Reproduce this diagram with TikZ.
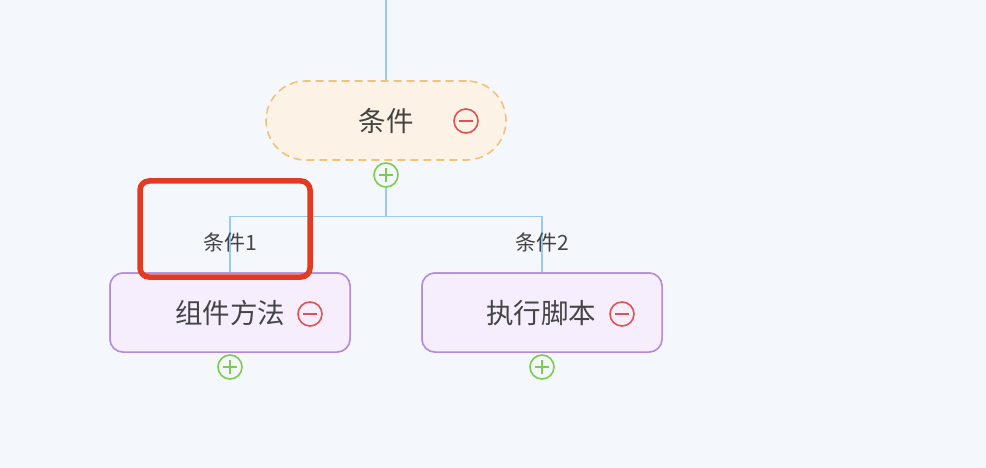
\documentclass[tikz,border=0pt]{standalone}
\usepackage{fontspec}
\setmainfont{Noto Sans CJK SC}
\definecolor{bg}{HTML}{F4F7FB}
\definecolor{lnk}{HTML}{9CCAEE}
\definecolor{rootfill}{HTML}{FDF2E6}
\definecolor{rootdraw}{HTML}{F1C27A}
\definecolor{kidfill}{HTML}{F6EEFC}
\definecolor{kiddraw}{HTML}{B48BDB}
\definecolor{txt}{HTML}{444444}
\definecolor{minusc}{HTML}{E05252}
\definecolor{plusc}{HTML}{7ECB52}
\definecolor{hl}{HTML}{E23B22}
\tikzset{
  rootbox/.style={draw=rootdraw, fill=rootfill, line width=1.6pt, dash pattern=on 8pt off 5pt,
    rounded corners=39.5pt, minimum width=240pt, minimum height=79pt, inner sep=0pt},
  kidbox/.style={draw=kiddraw, fill=kidfill, line width=1.5pt, rounded corners=13pt,
    minimum width=240pt, minimum height=79pt, inner sep=0pt},
  maintext/.style={text=txt, font=\fontsize{27.5}{30}\selectfont, inner sep=0pt},
  labtext/.style={text=txt, font=\fontsize{21}{24}\selectfont, inner sep=0pt},
  minusbtn/.style={circle, draw=minusc, line width=1.6pt, minimum size=24pt, inner sep=0pt,
    path picture={\draw[minusc, line width=1.6pt] ([xshift=-7pt]path picture bounding box.center) -- ([xshift=7pt]path picture bounding box.center);}},
  plusbtn/.style={circle, draw=plusc, line width=1.6pt, minimum size=24pt, inner sep=0pt,
    path picture={\draw[plusc, line width=1.6pt] ([xshift=-7pt]path picture bounding box.center) -- ([xshift=7pt]path picture bounding box.center)
      ([yshift=-7pt]path picture bounding box.center) -- ([yshift=7pt]path picture bounding box.center);}},
  link/.style={draw=lnk, line width=1.2pt},
  highlight/.style={draw=hl, line width=5.5pt, rounded corners=9pt}
}
\begin{document}
\begin{tikzpicture}[x=1pt, y=-1pt]
\fill[bg] (0,0) rectangle (986,468);
\useasboundingbox (0,0) rectangle (986,468);
% nodes
\coordinate (top) at (386,0);
\node[rootbox] (root) at (386,120.5) {};
\node[maintext] (roottxt) at (386,121) {条件};
\node[minusbtn] (rootminus) at (466,121) {};
\node[plusbtn] (rootplus) at (386,175) {};
\coordinate (junc) at (386,216.5);
\node[kidbox] (kid1) at (230,312.5) {};
\node[kidbox] (kid2) at (542,312.5) {};
% connectors
\draw[link] (top) -- (root.north);
\draw[link] (rootplus.south) -- (junc);
\draw[link] (junc) -| (kid1.north);
\draw[link] (junc) -| (kid2.north);
% redraw child boxes over lines
\node[kidbox] at (230,312.5) {};
\node[kidbox] at (542,312.5) {};
\node[maintext] (kid1txt) at (230,313) {组件方法};
\node[maintext] (kid2txt) at (541,313) {执行脚本};
\node[minusbtn] (kid1minus) at (310,314) {};
\node[minusbtn] (kid2minus) at (622,314) {};
\node[plusbtn] (kid1plus) at (230,367) {};
\node[plusbtn] (kid2plus) at (542,367) {};
\node[labtext] (lab1) at (230,242) {条件1};
\node[labtext] (lab2) at (542,242) {条件2};
% highlight
\draw[highlight] (140,181) rectangle (310,277);
\end{tikzpicture}
\end{document}
